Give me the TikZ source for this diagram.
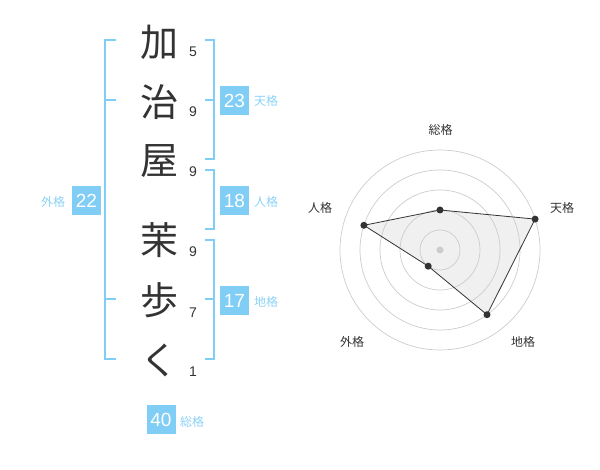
\documentclass[tikz,border=0pt]{standalone}
\usepackage{fontspec}
\setmainfont{Liberation Sans}
\newfontfamily\jp{Noto Sans CJK JP}
\definecolor{sky}{HTML}{80CDF5}
\definecolor{skytext}{HTML}{8DD2F6}
\definecolor{ink}{HTML}{333333}
\definecolor{ring}{HTML}{CCCCCC}
\definecolor{area}{HTML}{F0F0F0}
\begin{document}
\begin{tikzpicture}[x=1pt,y=-1pt,
  kanji/.style={font=\jp\fontsize{38}{38}\selectfont, text=ink, inner sep=0pt},
  strokes/.style={font=\fontsize{14}{14}\selectfont, text=ink, inner sep=0pt},
  valbox/.style={fill=sky, text=white, minimum width=29pt, minimum height=29pt, inner sep=0pt, font=\fontsize{19}{19}\selectfont},
  gelabel/.style={text=skytext, font=\jp\fontsize{12}{12}\selectfont, inner sep=0pt},
  axislabel/.style={text=ink, font=\jp\fontsize{12}{12}\selectfont, inner sep=0pt},
  bracket/.style={draw=sky, line width=2pt},
  ringline/.style={draw=ring, line width=0.7pt},
  dot/.style={circle, fill=ink, minimum size=7pt, inner sep=0pt}]
\useasboundingbox (0,0) rectangle (600,470);

% characters
\node[kanji] (k1) at (159,42) {加};
\node[kanji] (k2) at (159,102) {治};
\node[kanji] (k3) at (159,161) {屋};
\node[kanji] (k4) at (159,240) {茉};
\node[kanji] (k5) at (159,300) {歩};
\node[kanji] (k6) at (159,360) {く};

% stroke counts
\node[strokes] (s1) at (193,52) {5};
\node[strokes] (s2) at (193,112) {9};
\node[strokes] (s3) at (193,172) {9};
\node[strokes] (s4) at (193,252) {9};
\node[strokes] (s5) at (193,313) {7};
\node[strokes] (s6) at (193,372) {1};

% brackets
\draw[bracket] (116,40) -| (105,359) -- (116,359);
\draw[bracket] (105,100) -- (116,100);
\draw[bracket] (105,299) -- (116,299);
\draw[bracket] (205,40) -| (214,159) -- (205,159);
\draw[bracket] (205,100) -- (214,100);
\draw[bracket] (205,170) -| (214,229) -- (205,229);
\draw[bracket] (205,240) -| (214,359) -- (205,359);
\draw[bracket] (205,299) -- (214,299);

% values
\node[valbox] (ten) at (234.5,100.5) {23};
\node[gelabel] (tenl) at (266,101) {天格};
\node[valbox] (jin) at (234.5,201) {18};
\node[gelabel] (jinl) at (266,202) {人格};
\node[valbox] (chi) at (234.5,300.5) {17};
\node[gelabel] (chil) at (266,302) {地格};
\node[valbox] (gai) at (86.5,200.5) {22};
\node[gelabel] (gail) at (53,202) {外格};
\node[valbox] (sou) at (161,419.5) {40};
\node[gelabel] (soul) at (192,422) {総格};

% radar
\coordinate (c) at (440,250);
\coordinate (pS) at (440,210);
\coordinate (pT) at (535.1,219.1);
\coordinate (pC) at (487,314.7);
\coordinate (pG) at (428.2,266.2);
\coordinate (pJ) at (363.9,225.3);
\fill[area] (pS) -- (pT) -- (pC) -- (pG) -- (pJ) -- cycle;
\foreach \r in {20,40,60,80,100} \draw[ringline] (c) circle[radius=\r];
\draw[ink, line width=0.8pt, line join=round] (pS) -- (pT) -- (pC) -- (pG) -- (pJ) -- cycle;
\node[circle, fill=ring, minimum size=7pt, inner sep=0pt] (cd) at (c) {};
\foreach \p in {pS,pT,pC,pG,pJ} \node[dot] at (\p) {};
\node[axislabel] (aS) at (440.5,130) {総格};
\node[axislabel] (aT) at (562,208) {天格};
\node[axislabel] (aC) at (523,342) {地格};
\node[axislabel] (aG) at (352,342) {外格};
\node[axislabel] (aJ) at (320,208) {人格};
\end{tikzpicture}
\end{document}
